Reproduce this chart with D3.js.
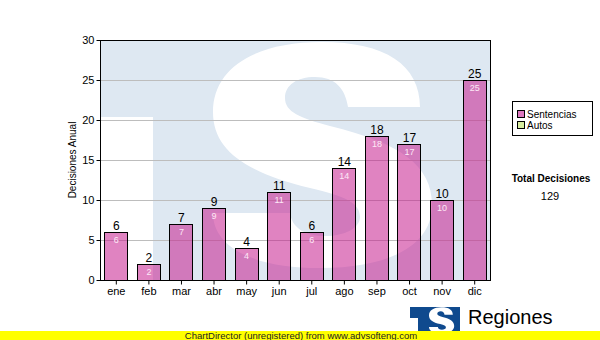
<!DOCTYPE html>
<html>
<head>
<meta charset="utf-8">
<script src="https://cdn.jsdelivr.net/npm/d3@7"></script>
<style>
  html, body { margin: 0; padding: 0; background: #fff; }
  svg { display: block; font-family: "Liberation Sans", Arial, sans-serif; }
</style>
</head>
<body>
<svg id="chart" width="600" height="340"></svg>
<script>
// Monthly decisions
const months = ["ene", "feb", "mar", "abr", "may", "jun", "jul", "ago", "sep", "oct", "nov", "dic"];
const sentencias = [6, 2, 7, 9, 4, 11, 6, 14, 18, 17, 10, 25];
const autos = [0, 0, 0, 0, 0, 0, 0, 0, 0, 0, 0, 0];
const yTicks = [0, 5, 10, 15, 20, 25, 30];
const seriesNames = ["Sentencias", "Autos"];
const seriesColors = ["#dc78bf", "#d8eea0"];

// Outline of the "S" emblem (emblem units)
const emblemS = "M420 107 L348 107 C345 88 335 77 315 77 C297 77 285 85 285 98 " +
  "C285 112 300 118 330 126 C400 143 432 165 432 205 C432 248 385 268 320 268 " +
  "C255 268 213 248 213 213 L290 213 C292 228 305 236 325 236 C345 236 360 228 360 217 " +
  "C360 203 345 196 310 188 C245 172 213 150 213 112 C213 68 255 42 322 42 " +
  "C385 42 420 65 420 107 Z";

const svg = d3.select("#chart");
const plot = { left: 100, right: 490, top: 40, bottom: 280 };

const x = d3.scaleBand().domain(months)
  .range([plot.left, plot.right]).paddingInner(0.29).paddingOuter(0.13);
const y = d3.scaleLinear().domain([0, 30]).range([plot.bottom, plot.top]);

// Plot background carrying a faint emblem
const defs = svg.append("defs");
defs.append("clipPath").attr("id", "plotClip")
  .append("rect").attr("x", plot.left).attr("y", plot.top)
  .attr("width", plot.right - plot.left).attr("height", plot.bottom - plot.top);
defs.append("clipPath").attr("id", "logoClip")
  .append("rect").attr("x", 410).attr("y", 307).attr("width", 50).attr("height", 24);

const bg = svg.append("g").attr("clip-path", "url(#plotClip)");
bg.append("rect").attr("x", plot.left).attr("y", plot.top)
  .attr("width", plot.right - plot.left).attr("height", plot.bottom - plot.top)
  .attr("fill", "#dee8f2");
bg.append("rect").attr("x", plot.left).attr("y", 117)
  .attr("width", 53).attr("height", plot.bottom - 117).attr("fill", "#fff");
bg.append("path").attr("d", emblemS).attr("fill", "#fff");

// Grid lines
svg.append("g").selectAll("line").data(yTicks.filter(d => d > 0 && d < 30)).join("line")
  .attr("x1", plot.left).attr("x2", plot.right)
  .attr("y1", d => y(d) + 0.5).attr("y2", d => y(d) + 0.5)
  .attr("stroke", "#bdbdbd").attr("stroke-width", 1);

// Bars
const bars = svg.append("g");
bars.selectAll("rect").data(sentencias).join("rect")
  .attr("x", (d, i) => Math.round(x(months[i])) + 0.5)
  .attr("y", d => y(d) + 0.5)
  .attr("width", Math.round(x.bandwidth()))
  .attr("height", d => y(0) - y(d))
  .attr("fill", "rgb(199,30,142)").attr("fill-opacity", 0.55)
  .attr("stroke", "#000").attr("stroke-width", 1);

// Value labels above bars
bars.selectAll("text.top").data(sentencias).join("text").attr("class", "top")
  .attr("x", (d, i) => x(months[i]) + x.bandwidth() / 2 + 0.5)
  .attr("y", d => y(d) - 2)
  .attr("text-anchor", "middle").attr("font-size", 12).attr("fill", "#000")
  .text(d => d);

// Value labels inside bars
bars.selectAll("text.in").data(sentencias).join("text").attr("class", "in")
  .attr("x", (d, i) => x(months[i]) + x.bandwidth() / 2 + 0.5)
  .attr("y", d => y(d) + 11)
  .attr("text-anchor", "middle").attr("font-size", 9).attr("fill", "#fde8f6")
  .text(d => d);

// Frame
svg.append("rect").attr("x", plot.left + 0.5).attr("y", plot.top + 0.5)
  .attr("width", plot.right - plot.left).attr("height", plot.bottom - plot.top)
  .attr("fill", "none").attr("stroke", "#000");

// Axes
const yAxis = d3.axisLeft(y).tickValues(yTicks).tickSize(4).tickPadding(2);
const gy = svg.append("g").attr("transform", `translate(${plot.left + 0.5},0)`).call(yAxis);
gy.select(".domain").remove();
gy.selectAll("text").attr("font-size", 11).attr("font-family", "Liberation Sans, Arial, sans-serif").attr("fill", "#000");
gy.selectAll("line").attr("stroke", "#000");

const xAxis = d3.axisBottom(x).tickSize(4).tickPadding(3);
const gx = svg.append("g").attr("transform", `translate(0.5,${plot.bottom + 0.5})`).call(xAxis);
gx.select(".domain").remove();
gx.selectAll("text").attr("font-size", 11).attr("font-family", "Liberation Sans, Arial, sans-serif").attr("fill", "#000");
gx.selectAll("line").attr("stroke", "#000");

// Axis title
svg.append("text").attr("transform", "translate(76,160) rotate(-90)")
  .attr("text-anchor", "middle").attr("font-size", 10).text("Decisiones Anual");

// Legend
const lg = svg.append("g");
lg.append("rect").attr("x", 512.5).attr("y", 101.5).attr("width", 80).attr("height", 34)
  .attr("fill", "#fff").attr("stroke", "#000");
seriesNames.forEach((name, i) => {
  lg.append("rect").attr("x", 517.5).attr("y", 110.5 + i * 11).attr("width", 7).attr("height", 7)
    .attr("fill", seriesColors[i]).attr("stroke", "#000");
  lg.append("text").attr("x", 527).attr("y", 118 + i * 11).attr("font-size", 10).text(name);
});

// Total
const total = d3.sum(sentencias) + d3.sum(autos);
svg.append("text").attr("x", 551).attr("y", 182).attr("text-anchor", "middle")
  .attr("font-size", 10).attr("font-weight", "bold").text("Total Decisiones");
svg.append("text").attr("x", 550).attr("y", 200).attr("text-anchor", "middle")
  .attr("font-size", 11).text(total);

// Brand logo
const logo = svg.append("g");
logo.append("rect").attr("x", 410).attr("y", 307).attr("width", 50).attr("height", 24).attr("fill", "#0f4a8e");
const logoInner = logo.append("g").attr("clip-path", "url(#logoClip)");
logoInner.append("rect").attr("x", 410).attr("y", 318).attr("width", 8).attr("height", 13).attr("fill", "#fff");
logoInner.append("path").attr("d", emblemS).attr("fill", "#fff")
  .attr("transform", "translate(404.5,302.5) scale(0.115)");
logo.append("text").attr("x", 468).attr("y", 324).attr("font-size", 20).attr("fill", "#000").text("Regiones");

// Footer bar
svg.append("rect").attr("x", 0).attr("y", 331).attr("width", 600).attr("height", 9).attr("fill", "#ffff00");
svg.append("text").attr("x", 301).attr("y", 339).attr("text-anchor", "middle")
  .attr("font-size", 9.5).attr("fill", "#222").text("ChartDirector (unregistered) from www.advsofteng.com");
</script>
</body>
</html>
